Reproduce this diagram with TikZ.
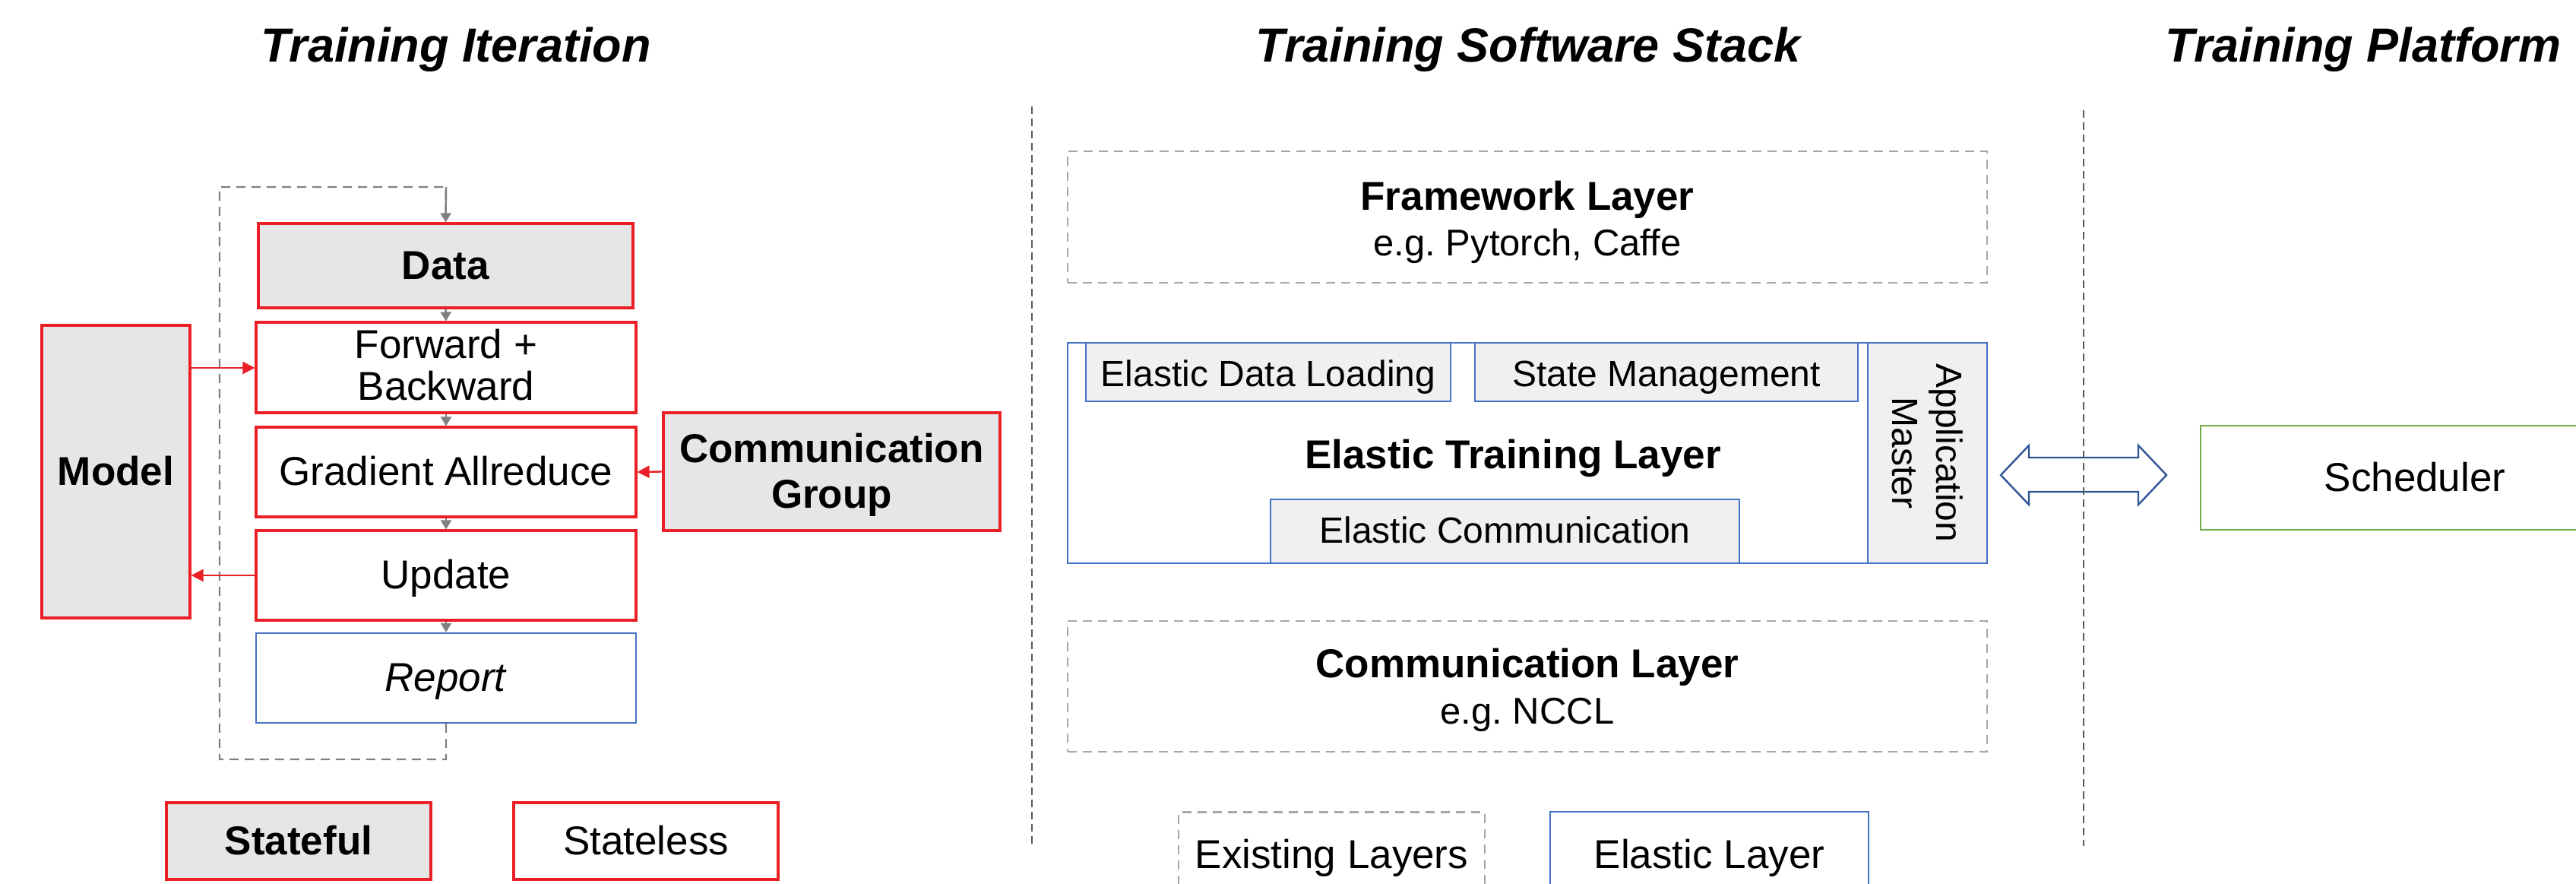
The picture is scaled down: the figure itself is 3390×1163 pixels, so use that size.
\documentclass[tikz,border=0pt]{standalone}
\usepackage{fontspec}
\setmainfont{Liberation Sans}
\usetikzlibrary{arrows.meta}
\definecolor{redc}{RGB}{235,32,39}
\definecolor{grayfill}{RGB}{230,230,230}
\definecolor{lightfill}{RGB}{240,240,240}
\definecolor{bluec}{RGB}{68,114,196}
\definecolor{dashgray}{RGB}{166,166,166}
\definecolor{flowgray}{RGB}{128,128,128}
\definecolor{sepgray}{RGB}{89,89,89}
\definecolor{greenc}{RGB}{112,173,71}
\definecolor{arrowblue}{RGB}{47,85,151}
\tikzset{
  base/.style={draw, inner sep=0pt, align=center, font=\fontsize{13.25pt}{15.5pt}\selectfont, text height=10pt, text depth=1pt},
  stfl/.style={base, draw=redc, line width=0.8pt, fill=grayfill},
  stls/.style={base, draw=redc, line width=0.8pt, fill=white},
  elbox/.style={base, draw=bluec, line width=0.6pt},
  subbox/.style={elbox, fill=lightfill, font=\fontsize{12pt}{14.5pt}\selectfont, text height=9pt, text depth=1.3pt},
  exist/.style={base, draw=dashgray, dash pattern=on 3pt off 2pt, line width=0.6pt},
  txt/.style={inner sep=0pt, anchor=base, font=\fontsize{13.25pt}{15.5pt}\selectfont},
  smalltxt/.style={inner sep=0pt, anchor=base, font=\fontsize{12.25pt}{14.5pt}\selectfont},
  flow/.style={draw=flowgray, line width=0.6pt, -{Triangle[length=3pt,width=3.5pt]}},
  loopline/.style={draw=flowgray, line width=0.6pt, dash pattern=on 3pt off 2pt},
  redarrow/.style={draw=redc, line width=0.6pt, -{Triangle[length=4pt,width=4pt]}},
  titletext/.style={font=\fontsize{15.75pt}{18pt}\selectfont\bfseries\itshape},
  sepline/.style={draw=sepgray, line width=0.5pt, dash pattern=on 2.5pt off 1.5pt},
}
\begin{document}
\frenchspacing
\begin{tikzpicture}[x=0.25pt, y=-0.25pt]
\useasboundingbox (0,0) rectangle (3390,1163);
\fill[white] (0,0) rectangle (3390,1163);

% titles
\node[titletext] (t1) at (600,65) {Training Iteration};
\node[titletext] (t2) at (2011,65) {Training Software Stack};
\node[titletext] (t3) at (3110,65) {Training Platform};

% loop corners
\coordinate (lp1) at (587,999);
\coordinate (lp2) at (289,999);
\coordinate (lp3) at (289,246);
\coordinate (lp4) at (587,246);

% training iteration boxes
\node[stfl, minimum width=123.25pt, minimum height=27.75pt] (data) at (586.5,349.5) {\textbf{Data}};
\node[stls, minimum width=125pt, minimum height=29.75pt] (fwd) at (587,483.5) {};
\node[txt] (fwd1) at (587,472) {Forward +};
\node[txt] (fwd2) at (587,527) {Backward};
\node[stls, minimum width=125pt, minimum height=29.5pt] (grad) at (587,621) {Gradient Allreduce};
\node[stls, minimum width=125pt, minimum height=29.5pt] (upd) at (587,757) {Update};
\node[elbox, fill=white, minimum width=125pt, minimum height=29.5pt] (rep) at (587,892) {\textit{Report}};
\node[stfl, minimum width=48.75pt, minimum height=96.25pt] (model) at (152.5,620.5) {\textbf{Model}};
\node[stfl, minimum width=110.75pt, minimum height=38.75pt] (cg) at (1094.5,620.5) {};
\node[txt, font=\fontsize{13.25pt}{15.5pt}\selectfont\bfseries] (cg1) at (1094.5,609) {Communication};
\node[txt, font=\fontsize{13.25pt}{15.5pt}\selectfont\bfseries] (cg2) at (1094.5,669) {Group};

\draw[loopline] (rep.south) -- (lp1) -- (lp2) -- (lp3) -- (lp4) -- ([yshift=4pt]data.north);
\draw[flow] (lp4) -- (data.north);

\draw[flow] (data.south) -- (fwd.north);
\draw[flow] (fwd.south) -- (grad.north);
\draw[flow] (grad.south) -- (upd.north);
\draw[flow] (upd.south) -- (rep.north);

\draw[redarrow] (model.east |- 0,484) -- (fwd.west |- 0,484);
\draw[redarrow] (upd.west) -- (model.east |- upd.west);
\draw[redarrow] (cg.west) -- (grad.east);

% legend
\node[stfl, minimum width=87pt, minimum height=25.25pt] (lg1) at (393,1106.5) {\textbf{Stateful}};
\node[stls, minimum width=87pt, minimum height=25.25pt] (lg2) at (850,1106.5) {Stateless};

% software stack
\node[exist, minimum width=302.5pt, minimum height=43.25pt] (fw) at (2010,285.5) {};
\node[txt, font=\fontsize{13.25pt}{15.5pt}\selectfont\bfseries] (fw1) at (2010,277) {Framework Layer};
\node[smalltxt] (fw2) at (2010,337) {e.g. Pytorch, Caffe};
\node[elbox, minimum width=302.5pt, minimum height=72.5pt] (etl) at (2010,596) {};
\node[subbox, minimum width=120pt, minimum height=19.25pt, text height=9.3pt, text depth=0pt] (edl) at (1669,489.5) {Elastic Data Loading};
\node[subbox, minimum width=126pt, minimum height=19.25pt, text height=9.3pt, text depth=0pt] (sm) at (2193,489.5) {State Management};
\node[subbox, minimum width=154.25pt, minimum height=21pt] (ec) at (1980.5,699) {Elastic Communication};
\node[subbox, minimum width=72.5pt, minimum height=39.25pt, rotate=-90, text height=, text depth=] (am) at (2536.5,596) {Application\\Master};
\node[txt, font=\fontsize{13.25pt}{15.5pt}\selectfont\bfseries] (etlt) at (1991,617) {Elastic Training Layer};
\node[exist, minimum width=302.5pt, minimum height=43pt] (cl) at (2010,903) {};
\node[txt, font=\fontsize{13.25pt}{15.5pt}\selectfont\bfseries] (cl1) at (2010,891) {Communication Layer};
\node[smalltxt] (cl2) at (2010,952) {e.g. NCCL};

\node[exist, minimum width=100.75pt, minimum height=27.75pt] (lg3) at (1752.5,1124) {Existing Layers};
\node[elbox, minimum width=104.75pt, minimum height=28pt] (lg4) at (2249.5,1124) {Elastic Layer};

% platform
\node[base, draw=greenc, line width=0.6pt, minimum width=141pt, minimum height=34.25pt] (sch) at (3178,628.5) {Scheduler};

\draw[draw=arrowblue, fill=white, line width=0.6pt]
  (2633,625) -- (2670,586) -- (2670,602) -- (2814,602) -- (2814,586) -- (2851,625)
  -- (2814,664) -- (2814,647) -- (2670,647) -- (2670,664) -- cycle;

% separators
\draw[sepline] (1358,140) -- (1358,1113);
\draw[sepline] (2742,145) -- (2742,1113);
\end{tikzpicture}
\end{document}
